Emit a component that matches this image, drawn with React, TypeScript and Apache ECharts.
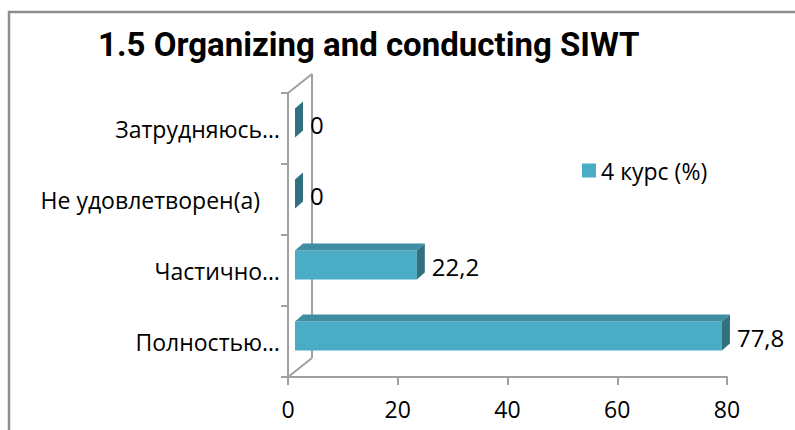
import React, { useEffect, useRef } from "react";
import * as echarts from "echarts";

const TITLE = "1.5 Organizing and conducting SIWT";
const SERIES_NAME = "4 курс (%)";
const categories = ["Полностью…", "Частично…", "Не удовлетворен(а)", "Затрудняюсь…"];
const values = [77.8, 22.2, 0, 0];
const X_MIN = 0;
const X_MAX = 80;
const X_INTERVAL = 20;

const FONT = "'Open Sans', 'Noto Sans', sans-serif";
const TITLE_FONT = "Roboto, 'Noto Sans', sans-serif";
const GRID_LEFT = 288;
const GRID_TOP = 93;
const GRID_W = 439;
const GRID_H = 284;
const DEPTH_X = 24;
const DEPTH_Y = 19;
const AXIS_COLOR = "#a0a0a0";

const BAR_SHIFT_X = 7;
const BAR_SHIFT_Y = -5.5;
const BAR_H = 29;
const BAR_DX = 8;
const BAR_DY = 7;

const FRONT = "#4BACC6";
const TOP = "#3E8DA1";
const SIDE = "#30707F";

export default function App() {
  const ref = useRef<HTMLDivElement>(null);

  useEffect(() => {
    if (!ref.current) return;
    const chart = echarts.init(ref.current, undefined, { renderer: "svg" });
    const gx0 = GRID_LEFT;
    const gy1 = GRID_TOP + GRID_H;
    const option: any = {
      animation: false,
      backgroundColor: "#ffffff",
      title: {
        text: TITLE,
        left: 93,
        top: 23,
        textStyle: { fontFamily: TITLE_FONT, fontSize: 33, fontWeight: "bold", color: "#000" },
      },
      legend: {
        data: [{ name: SERIES_NAME, icon: "rect" }],
        left: 577,
        top: 154,
        itemWidth: 14,
        itemHeight: 14,
        itemGap: 6,
        textStyle: { fontFamily: FONT, fontSize: 23, color: "#000" },
      },
      grid: { left: GRID_LEFT, top: GRID_TOP, width: GRID_W, height: GRID_H },
      xAxis: {
        type: "value",
        min: X_MIN,
        max: X_MAX,
        interval: X_INTERVAL,
        splitLine: { show: false },
        axisLine: { show: true, lineStyle: { color: AXIS_COLOR, width: 2 } },
        axisTick: { show: true, length: 8, lineStyle: { color: AXIS_COLOR, width: 2 } },
        axisLabel: { margin: 20, fontFamily: FONT, fontSize: 23, color: "#000" },
      },
      yAxis: {
        type: "category",
        data: categories,
        axisLine: { show: true, lineStyle: { color: AXIS_COLOR, width: 2 } },
        axisTick: { show: true, length: 7, lineStyle: { color: AXIS_COLOR, width: 2 } },
        axisLabel: {
          margin: 8,
          fontFamily: FONT,
          fontSize: 23,
          color: "#000",
          formatter: (v: string) => (v === "Не удовлетворен(а)" ? "{p|" + v + "}" : v),
          rich: { p: { fontFamily: FONT, fontSize: 23, color: "#000", padding: [0, 20, 0, 0] } },
        },
      },
      graphic: [
        {
          type: "rect",
          z: -10,
          shape: { x: 9, y: 12, width: 900, height: 600 },
          style: { fill: "none", stroke: "#8e8e8e", lineWidth: 2.5 },
        },
        {
          type: "line",
          z: -5,
          shape: { x1: gx0, y1: GRID_TOP, x2: gx0 + DEPTH_X, y2: GRID_TOP - DEPTH_Y },
          style: { stroke: AXIS_COLOR, lineWidth: 2 },
        },
        {
          type: "line",
          z: -5,
          shape: { x1: gx0 + DEPTH_X, y1: GRID_TOP - DEPTH_Y, x2: gx0 + DEPTH_X, y2: gy1 - DEPTH_Y },
          style: { stroke: AXIS_COLOR, lineWidth: 2 },
        },
        {
          type: "line",
          z: -5,
          shape: { x1: gx0, y1: gy1, x2: gx0 + DEPTH_X, y2: gy1 - DEPTH_Y },
          style: { stroke: AXIS_COLOR, lineWidth: 2 },
        },
      ],
      series: [
        {
          name: SERIES_NAME,
          type: "custom",
          z: 10,
          itemStyle: { color: FRONT },
          encode: { x: 0, y: 1 },
          data: values.map((v, i) => [v, i]),
          renderItem: (params: any, api: any) => {
            const v = api.value(0);
            const cat = api.value(1);
            const p0 = api.coord([0, cat]);
            const p1 = api.coord([v, cat]);
            const x0 = p0[0] + BAR_SHIFT_X;
            const x1 = p1[0] + BAR_SHIFT_X;
            const cy = p0[1] + BAR_SHIFT_Y;
            const top = cy - BAR_H / 2;
            const bot = cy + BAR_H / 2;
            const w = Math.max(x1 - x0, 0);
            const label = String(v).replace(".", ",");
            const children: any[] = [];
            if (w > 0) {
              children.push({
                type: "rect",
                shape: { x: x0, y: top, width: w, height: BAR_H },
                style: { fill: FRONT },
              });
              children.push({
                type: "polygon",
                shape: {
                  points: [
                    [x0, top],
                    [x1, top],
                    [x1 + BAR_DX, top - BAR_DY],
                    [x0 + BAR_DX, top - BAR_DY],
                  ],
                },
                style: { fill: TOP },
              });
            }
            children.push({
              type: "polygon",
              shape: {
                points: [
                  [x1, top],
                  [x1 + BAR_DX, top - BAR_DY],
                  [x1 + BAR_DX, bot - BAR_DY],
                  [x1, bot],
                ],
              },
              style: { fill: SIDE },
            });
            children.push({
              type: "text",
              x: x1 + BAR_DX + 7,
              y: cy + 1,
              style: {
                text: label,
                fill: "#000",
                fontFamily: FONT,
                fontSize: 24,
                align: "left",
                verticalAlign: "middle",
              },
            });
            return { type: "group", children };
          },
        },
      ],
    };
    chart.setOption(option);
    return () => chart.dispose();
  }, []);

  return (
    <div
      ref={ref}
      style={{ position: "fixed", left: 0, top: 0, width: 795, height: 430, background: "#fff" }}
    />
  );
}
